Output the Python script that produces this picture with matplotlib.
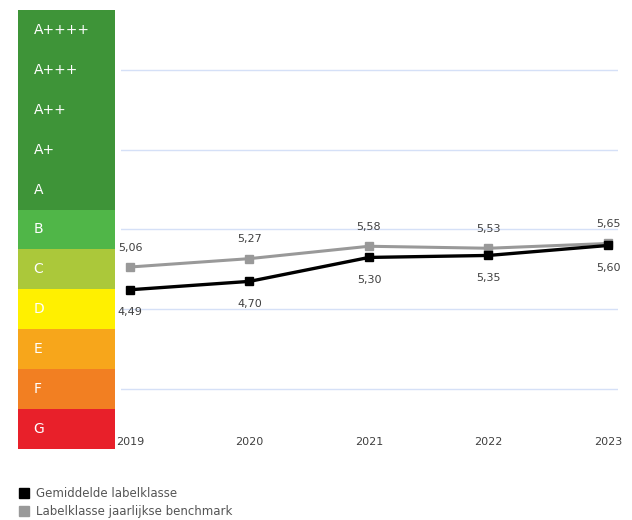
import matplotlib
matplotlib.use("Agg")
import matplotlib.pyplot as plt
from matplotlib.lines import Line2D

years = [2019, 2020, 2021, 2022, 2023]
gemiddelde = [4.49, 4.70, 5.30, 5.35, 5.60]
benchmark = [5.06, 5.27, 5.58, 5.53, 5.65]
classes = ["G", "F", "E", "D", "C", "B", "A", "A+", "A++", "A+++", "A++++"]
class_colors = ["#e8202a", "#f27f22", "#f7a61b", "#fff000", "#abc83a", "#50b648",
                "#3e9438", "#3e9438", "#3e9438", "#3e9438", "#3e9438"]
grid_values = [2, 4, 6, 8, 10]
legend_labels = ["Gemiddelde labelklasse", "Labelklasse jaarlijkse benchmark"]

W, H = 632, 520
fig = plt.figure(figsize=(W / 100, H / 100), dpi=100)

top_px, bot_px = 10, 449
ylo, yhi = 0.5, len(classes) + 0.5

# label band column
axb = fig.add_axes([18 / W, (H - bot_px) / H, 97 / W, (bot_px - top_px) / H])
for i, (c, col) in enumerate(zip(classes, class_colors)):
    axb.barh(i + 1, 1, height=1.0, left=0, color=col, edgecolor="none")
    axb.text(0.16, i + 1, c, color="white", fontsize=10, va="center", ha="left",
             family="DejaVu Sans")
axb.set_xlim(0, 1)
axb.set_ylim(ylo, yhi)
axb.axis("off")

# main chart
x0, x1 = 121, 618
ax = fig.add_axes([x0 / W, (H - bot_px) / H, (x1 - x0) / W, (bot_px - top_px) / H])
ax.set_xlim(2018.925, 2023.084)
ax.set_ylim(ylo, yhi)
for g in grid_values:
    ax.axhline(g, color="#d5e0f7", lw=1.0, zorder=0)
ax.plot(years, benchmark, color="#999999", lw=2.2, marker="s", ms=6,
        markerfacecolor="#999999", markeredgecolor="#999999", zorder=3)
ax.plot(years, gemiddelde, color="#000000", lw=2.4, marker="s", ms=6,
        markerfacecolor="#000000", markeredgecolor="#000000", zorder=4)

lab_font = ["Liberation Sans Narrow", "DejaVu Sans"]
for x, v in zip(years, benchmark):
    ax.annotate(f"{v:.2f}".replace(".", ","), (x, v), xytext=(0, 14),
                textcoords="offset points", ha="center", va="center",
                fontsize=8, color="#404040", family=lab_font)
for x, v in zip(years, gemiddelde):
    ax.annotate(f"{v:.2f}".replace(".", ","), (x, v), xytext=(0, -16),
                textcoords="offset points", ha="center", va="center",
                fontsize=8, color="#404040", family=lab_font)
for x in years:
    ax.text(x, 0.68, str(x), ha="center", va="center", fontsize=8,
            color="#404040", family=lab_font)
ax.axis("off")

# legend
handles = [Line2D([], [], ls="none", marker="s", ms=7, color="#000000"),
           Line2D([], [], ls="none", marker="s", ms=7, color="#999999")]
leg = fig.legend(handles, legend_labels, loc="upper left",
                 bbox_to_anchor=(19 / W, 1 - 487 / H), frameon=False,
                 fontsize=8.5, handlelength=0.8, handletextpad=0.6,
                 labelspacing=0.45, borderaxespad=0, borderpad=0)
for t in leg.get_texts():
    t.set_color("#555555")

fig.savefig("out.png", dpi=100)
